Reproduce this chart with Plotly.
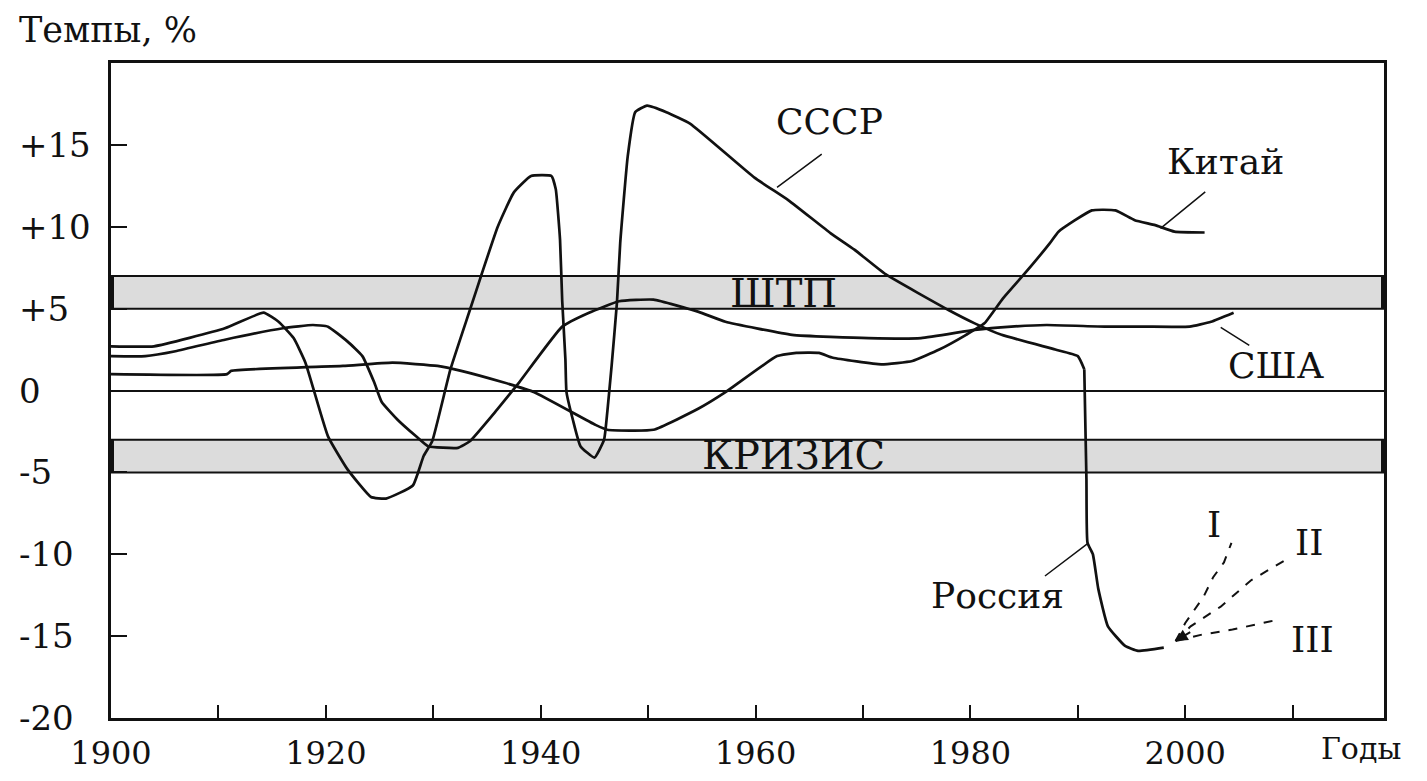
import plotly.graph_objects as go

# ---------------- data ----------------
ussr_years = [1900, 1904, 1910.6, 1914.2, 1915.6, 1917, 1918.1, 1920.2, 1922, 1924.2, 1925.6,
              1928.1, 1929.1, 1929.9, 1931.6, 1933.4, 1934.5, 1936, 1937.5, 1939.1, 1941,
              1941.4, 1941.8, 1942, 1942.3, 1942.4, 1943, 1943.7, 1945, 1945.9, 1946.2,
              1946.6, 1947.1, 1947.4, 1948.1, 1948.8, 1949.9, 1951.7, 1953.9, 1959.9, 1963.1,
              1967, 1969.2, 1972.1, 1978, 1980.4, 1982.9, 1987.9, 1990, 1990.6]
ussr_values = [2.7, 2.7, 3.8, 4.75, 4.2, 3.2, 1.7, -2.8, -4.8, -6.5, -6.6,
               -5.8, -4.0, -3.1, 1.3, 4.9, 7.1, 10.0, 12.1, 13.1, 13.1,
               12.3, 9.2, 5.5, 1.9, -0.1, -1.8, -3.4, -4.1, -3.0, -1.3,
               1.5, 5.4, 9.0, 14.3, 17.0, 17.4, 17.0, 16.3, 13.0, 11.6,
               9.6, 8.6, 7.1, 4.9, 4.1, 3.4, 2.5, 2.1, 1.3]

russia_years = [1990.6, 1990.8, 1990.9, 1991.4, 1991.9, 1992.8, 1994.4, 1995.6, 1998.0]
russia_values = [1.3, -5.4, -9.3, -10.0, -12.1, -14.4, -15.6, -15.9, -15.7]

usa_years = [1900, 1903.2, 1906, 1910.6, 1916, 1918.8, 1920.2, 1922, 1923.4, 1924.5, 1925.2,
             1926.7, 1928.4, 1929.5, 1932.3, 1933.4, 1935.9, 1938, 1942, 1944.5, 1947.3,
             1950.5, 1954.7, 1957.2, 1963.4, 1970.5, 1975.4, 1980.4, 1983.8, 1987.1, 1992.5,
             1996.2, 2000.4, 2002.4, 2004.5]
usa_values = [2.1, 2.1, 2.4, 3.1, 3.8, 4.0, 3.9, 3.0, 2.1, 0.5, -0.7,
              -1.8, -2.8, -3.4, -3.5, -3.1, -1.2, 0.5, 3.9, 4.75, 5.45,
              5.55, 4.8, 4.2, 3.4, 3.2, 3.2, 3.7, 3.9, 4.0, 3.9,
              3.9, 3.9, 4.2, 4.75]

china_years = [1900, 1910.8, 1911.2, 1921.6, 1926.2, 1930.4, 1932.6, 1936.5, 1939.4, 1945.1,
               1946.2, 1950.5, 1954.7, 1957.2, 1962, 1963.8, 1965.9, 1967.2, 1971.7, 1974.6,
               1977.1, 1979.6, 1981.3, 1983, 1985, 1987.4, 1988.2, 1991.3, 1993.5, 1995.3,
               1997.2, 1999, 2001.8]
china_values = [1.0, 1.0, 1.2, 1.5, 1.7, 1.5, 1.2, 0.5, -0.1, -2.1,
                -2.4, -2.4, -1.1, -0.1, 2.1, 2.3, 2.3, 2.0, 1.6, 1.8,
                2.5, 3.4, 4.1, 5.6, 7.1, 9.0, 9.7, 11.0, 11.0, 10.4,
                10.1, 9.7, 9.65]

scen1_years = [1999.1, 2000.0, 2001.7, 2002.6, 2003.6, 2004.3]
scen1_values = [-15.3, -14.2, -12.6, -11.4, -10.5, -9.3]
scen2_years = [1999.1, 2000.5, 2003.3, 2006.1, 2009.2]
scen2_values = [-15.3, -14.4, -13.2, -11.6, -10.4]
scen3_years = [1999.1, 2001.6, 2004.4, 2008.6]
scen3_values = [-15.3, -14.9, -14.6, -14.0]

band_growth = [5, 7]      # ШТП
band_crisis = [-5, -3]    # КРИЗИС

x_tick_vals = [1900, 1910, 1920, 1930, 1940, 1950, 1960, 1970, 1980, 1990, 2000, 2010]
x_tick_text = ["1900", "", "1920", "", "1940", "", "1960", "", "1980", "", "2000", ""]
y_tick_vals = [15, 10, 5, 0, -5, -10, -15, -20]
y_tick_text = ["+15", "+10", "+5", "0", "-5", "-10", "-15", "-20"]

X_MIN, X_MAX = 1900, 2018.5
Y_MIN, Y_MAX = -20, 20

FONT = "DejaVu Serif"
BLACK = "#111111"

fig = go.Figure()

line_style = dict(color=BLACK, width=2.7, shape="spline", smoothing=0.4)
fig.add_trace(go.Scatter(x=ussr_years, y=ussr_values, mode="lines", line=line_style, name="СССР"))
fig.add_trace(go.Scatter(x=russia_years, y=russia_values, mode="lines", line=line_style, name="Россия"))
fig.add_trace(go.Scatter(x=usa_years, y=usa_values, mode="lines", line=line_style, name="США"))
fig.add_trace(go.Scatter(x=china_years, y=china_values, mode="lines", line=line_style, name="Китай"))
dash_style = dict(color=BLACK, width=2, dash="dash")
fig.add_trace(go.Scatter(x=scen1_years, y=scen1_values, mode="lines", line=dash_style, name="I"))
fig.add_trace(go.Scatter(x=scen2_years, y=scen2_values, mode="lines", line=dash_style, name="II"))
fig.add_trace(go.Scatter(x=scen3_years, y=scen3_values, mode="lines", line=dash_style, name="III"))

# bands
for y0, y1 in (band_growth, band_crisis):
    fig.add_shape(type="rect", xref="x", yref="y", x0=X_MIN, x1=X_MAX, y0=y0, y1=y1,
                  fillcolor="#dcdcdc", line=dict(color=BLACK, width=2), layer="below")
    for xe in (X_MIN, X_MAX):
        fig.add_shape(type="line", xref="x", yref="y", x0=xe, x1=xe, y0=y0, y1=y1,
                      line=dict(color=BLACK, width=6))

annotations = []
# y tick labels (left aligned like the original)
for v, t in zip(y_tick_vals, y_tick_text):
    annotations.append(dict(xref="paper", yref="y", x=-0.0738, y=v, text=t, showarrow=False,
                            xanchor="left", yanchor="middle", font=dict(family=FONT, size=34, color=BLACK)))

label_font = dict(family=FONT, size=36, color=BLACK)
band_font = dict(family=FONT, size=40, color=BLACK)
# series labels
labels = [
    ("СССР", 1966.9, 16.4, label_font),
    ("Китай", 2003.7, 14.0, label_font),
    ("США", 2008.4, 1.5, label_font),
    ("Россия", 1982.5, -12.5, label_font),
    ("I", 2002.7, -8.2, label_font),
    ("II", 2011.5, -9.3, label_font),
    ("III", 2011.8, -15.2, label_font),
    ("ШТП", 1962.6, 5.95, band_font),
    ("КРИЗИС", 1963.5, -3.95, band_font),
]
for t, x, y, f in labels:
    annotations.append(dict(xref="x", yref="y", x=x, y=y, text=t, showarrow=False,
                            xanchor="center", yanchor="middle", font=f))

# leader lines
leaders = [
    (1966.3, 14.5, 1962.0, 12.4),
    (2002.0, 12.2, 1997.7, 9.9),
    (2006.1, 2.7, 2003.3, 3.85),
    (1986.8, -11.4, 1991.0, -9.3),
]
for x0, y0, x1, y1 in leaders:
    annotations.append(dict(xref="x", yref="y", axref="x", ayref="y", x=x1, y=y1, ax=x0, ay=y0,
                            text="", showarrow=True, arrowhead=0, arrowwidth=1.5, arrowcolor=BLACK))

# arrow at start of scenarios
annotations.append(dict(xref="x", yref="y", axref="x", ayref="y", x=1999.1, y=-15.3,
                        ax=2000.6, ay=-14.7, text="", showarrow=True, arrowhead=2,
                        arrowsize=1.2, arrowwidth=2, arrowcolor=BLACK))

# axis titles
annotations.append(dict(xref="paper", yref="paper", x=-0.0738, y=1.05, text="Темпы, %",
                        showarrow=False, xanchor="left", yanchor="middle",
                        font=dict(family=FONT, size=35, color=BLACK)))
annotations.append(dict(xref="paper", yref="paper", x=0.982, y=-0.047, text="Годы",
                        showarrow=False, xanchor="center", yanchor="middle",
                        font=dict(family=FONT, size=30, color=BLACK)))

# the page body adds an 8px offset, so the figure is sized to fit inside it
fig.update_layout(
    width=1411, height=765,
    margin=dict(l=103, r=35, t=55, b=55, autoexpand=False),
    paper_bgcolor="white", plot_bgcolor="white",
    showlegend=False,
    annotations=annotations,
    xaxis=dict(range=[X_MIN, X_MAX], tickvals=x_tick_vals, ticktext=x_tick_text,
               ticks="inside", ticklen=13, tickwidth=2, tickcolor=BLACK,
               showline=True, linewidth=3, linecolor=BLACK, mirror=True,
               showgrid=False, zeroline=False, ticklabelstandoff=5, automargin=False,
               tickfont=dict(family=FONT, size=32, color=BLACK)),
    yaxis=dict(range=[Y_MIN, Y_MAX], tickvals=y_tick_vals,
               ticks="inside", ticklen=16, tickwidth=2, tickcolor=BLACK,
               showticklabels=False, automargin=False,
               showline=True, linewidth=3, linecolor=BLACK, mirror=True,
               showgrid=False, zeroline=True, zerolinecolor=BLACK, zerolinewidth=2),
)

fig.write_html("out.html")
